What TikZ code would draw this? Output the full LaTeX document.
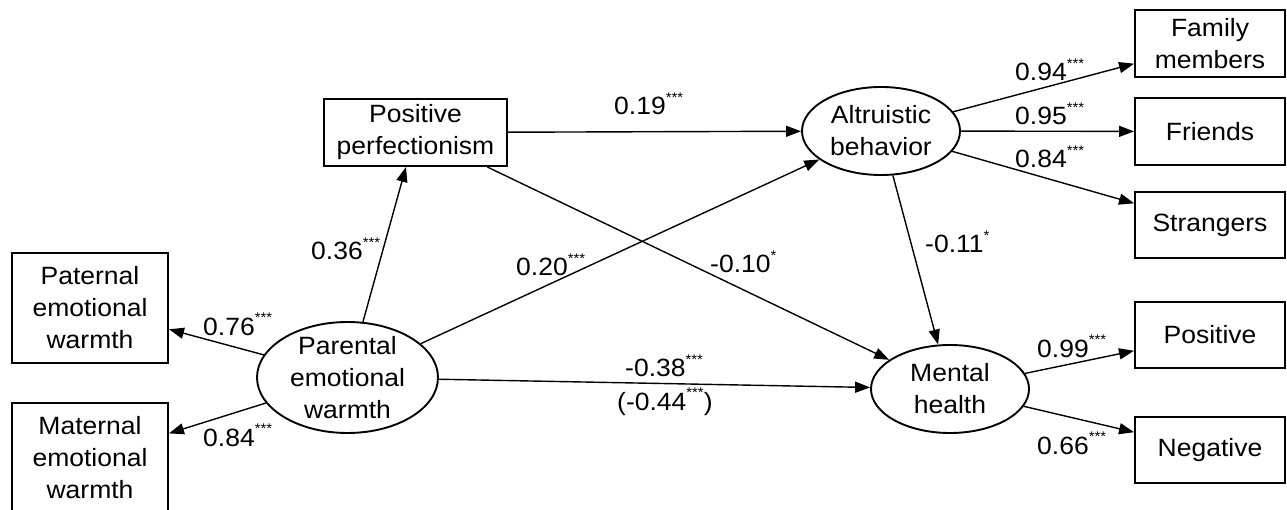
\documentclass[tikz,border=0pt]{standalone}
\usepackage{fontspec}
\setmainfont{Liberation Sans}[FakeStretch=1.06]
\usetikzlibrary{shapes.geometric,arrows.meta}
\newcommand\sig[1]{\raisebox{12.5pt}{\fontsize{14}{14}\selectfont #1}}
\begin{document}
\begin{tikzpicture}[x=1pt,y=-1pt,
  txt/.style={inner sep=0pt,align=center,font=\fontsize{25}{32}\selectfont},
  box/.style={draw,line width=1.9pt,inner sep=0pt,align=center,font=\fontsize{25}{32}\selectfont},
  lat/.style={draw,ellipse,line width=1.9pt,inner sep=0pt},
  arr/.style={line width=1.4pt,-{Triangle[length=15pt,width=11pt]}},
  lab/.style={anchor=base west,inner sep=0pt,font=\fontsize{25}{30}\selectfont}]
\useasboundingbox (0,0) rectangle (1287,510);
\clip (0,0) rectangle (1287,510);
% observed indicators (left)
\node[box,minimum width=156pt,minimum height=110pt] (pat) at (90,308) {Paternal\\emotional\\warmth};
\node[box,minimum width=156pt,minimum height=110pt] (mat) at (90,458) {Maternal\\emotional\\warmth};
% latent / observed variables
\node[lat,minimum width=181pt,minimum height=111pt] (par) at (347.5,377.5) {};
\node[txt] (part) at (par.center) {Parental\\emotional\\warmth};
\node[box,minimum width=183pt,minimum height=67pt] (pp) at (415.5,132.5) {Positive\\perfectionism};
\node[lat,minimum width=158pt,minimum height=88pt] (alt) at (881,131) {};
\node[txt] (altt) at (alt.center) {Altruistic\\behavior};
\node[lat,minimum width=158pt,minimum height=88pt] (mh) at (950,389) {};
\node[txt] (mht) at (mh.center) {Mental\\health};
% indicators (right)
\node[box,minimum width=150pt,minimum height=67pt] (fam) at (1210,43.5) {Family\\members};
\node[box,minimum width=150pt,minimum height=67pt] (fri) at (1210,131.5) {Friends};
\node[box,minimum width=150pt,minimum height=66pt] (str) at (1210,225) {Strangers};
\node[box,minimum width=150pt,minimum height=66pt] (pos) at (1210,335) {Positive};
\node[box,minimum width=150pt,minimum height=66pt] (neg) at (1210,450) {Negative};
% connectors
\draw[arr] (par) -- (pat);
\draw[arr] (par) -- (mat);
\draw[arr] (par) -- (pp);
\draw[arr] (par) -- (alt);
\draw[arr] (par) -- (mh);
\draw[arr] (pp) -- (alt);
\draw[arr] (pp) -- (mh);
\draw[arr] (alt) -- (mh);
\draw[arr] (alt) -- (fam);
\draw[arr] (alt) -- (fri);
\draw[arr] (alt) -- (str);
\draw[arr] (mh) -- (pos);
\draw[arr] (mh) -- (neg);
% labels
\node[lab] (l036) at (311,260) {0.36\sig{***}};
\node[lab] (l076) at (203,335) {0.76\sig{***}};
\node[lab] (l084a) at (203,446) {0.84\sig{***}};
\node[lab] (l020) at (516,276) {0.20\sig{***}};
\node[lab] (l010) at (710,273) {-0.10\sig{*}};
\node[lab] (l011) at (925,253) {-0.11\sig{*}};
\node[lab] (l038) at (625,377) {-0.38\sig{***}};
\node[lab] (l044) at (617,410) {(-0.44\sig{***})};
\node[lab] (l019) at (614,115) {0.19\sig{***}};
\node[lab] (l094) at (1015,81) {0.94\sig{***}};
\node[lab] (l095) at (1015,125) {0.95\sig{***}};
\node[lab] (l084b) at (1015,168) {0.84\sig{***}};
\node[lab] (l099) at (1037,357) {0.99\sig{***}};
\node[lab] (l066) at (1037,454) {0.66\sig{***}};
\end{tikzpicture}
\end{document}
